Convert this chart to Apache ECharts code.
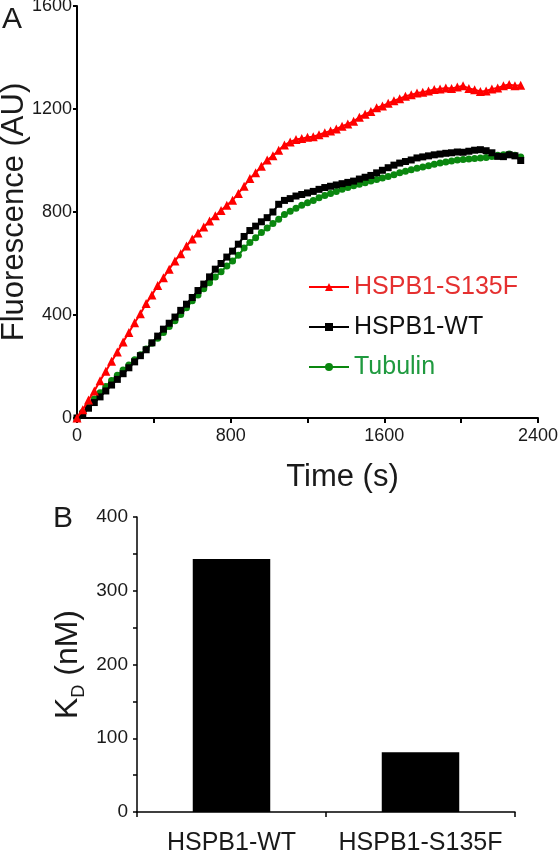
<!DOCTYPE html>
<html>
<head>
<meta charset="utf-8">
<script src="https://cdn.jsdelivr.net/npm/echarts@6/dist/echarts.min.js"></script>
<style>
html,body{margin:0;padding:0;background:#fff;}
#chart{width:560px;height:852px;}
</style>
</head>
<body>
<div id="chart"></div>
<script>
// ---- Panel A data ----
var timeSec = [0,30,60,90,120,150,180,210,240,270,300,330,360,390,420,450,480,510,540,570,600,630,660,690,720,750,780,810,840,870,900,930,960,990,1020,1050,1080,1110,1140,1170,1200,1230,1260,1290,1320,1350,1380,1410,1440,1470,1500,1530,1560,1590,1620,1650,1680,1710,1740,1770,1800,1830,1860,1890,1920,1950,1980,2010,2040,2070,2100,2130,2160,2190,2220,2250,2280,2310];
var s135f = [0,32,70,105,145,182,220,256,295,332,370,405,445,478,515,545,578,610,638,668,695,718,742,765,785,806,826,846,872,900,930,952,978,1002,1018,1040,1060,1072,1082,1085,1090,1092,1100,1108,1115,1122,1133,1142,1152,1168,1180,1190,1205,1212,1222,1232,1240,1250,1255,1262,1265,1270,1276,1278,1282,1280,1285,1290,1280,1275,1268,1270,1278,1282,1290,1295,1290,1292];
var wt = [0,15,38,60,82,105,128,150,172,195,218,242,265,292,318,345,368,392,418,442,468,495,520,548,578,600,625,648,675,705,728,745,762,778,800,830,845,852,862,868,874,880,888,895,900,905,910,915,920,928,935,942,952,962,972,982,990,996,1002,1010,1014,1018,1022,1025,1028,1030,1033,1032,1036,1040,1042,1038,1030,1016,1015,1022,1018,1000];
var tubulin = [0,22,48,74,98,122,146,166,186,206,226,246,268,290,310,332,355,378,402,428,455,478,502,525,548,568,590,610,632,660,682,700,720,738,755,772,790,803,815,826,836,845,855,864,872,880,888,895,902,908,914,920,926,932,938,945,952,958,964,970,975,980,985,990,994,998,1002,1004,1006,1008,1010,1012,1016,1020,1022,1025,1020,1014];
var seriesNames = ['HSPB1-S135F','HSPB1-WT','Tubulin'];

// ---- Panel B data ----
var kdCategories = ['HSPB1-WT','HSPB1-S135F'];
var kdValues = [343, 81];

function pairs(xs, ys){ var out=[]; for(var i=0;i<xs.length;i++){ out.push([xs[i], ys[i]]); } return out; }

var FONT = "'Liberation Sans', Arial, sans-serif";
var TXT = '#1a1a1a';

var chart = echarts.init(document.getElementById('chart'), null, {renderer:'canvas'});
var option = {
  backgroundColor:'#ffffff',
  animation:false,
  textStyle:{fontFamily:FONT},
  graphic:[
    {type:'text', left:2, top:5, style:{text:'A', font:'30px '+FONT, fill:TXT}},
    {type:'text', left:53, top:504, style:{text:'B', font:'30px '+FONT, fill:TXT}}
  ],
  legend:{
    orient:'vertical', left:303, top:267, itemWidth:40, itemHeight:10, itemGap:10,
    textStyle:{fontSize:25, lineHeight:30, fontFamily:FONT},
    data:[
      {name:'HSPB1-S135F', textStyle:{color:'#e53030'}},
      {name:'HSPB1-WT', textStyle:{color:'#111111'}},
      {name:'Tubulin', textStyle:{color:'#1f9a3f'}}
    ]
  },
  grid:[
    {left:77, right:22, top:6, height:412, containLabel:false, outerBoundsMode:'none'},
    {left:137, right:45, top:517, height:295, containLabel:false, outerBoundsMode:'none'}
  ],
  xAxis:[
    {type:'value', gridIndex:0, min:0, max:2400, interval:400,
     name:'Time (s)', nameLocation:'middle', nameGap:44, nameMoveOverlap:false,
     nameTextStyle:{fontSize:31, color:TXT, fontFamily:FONT, padding:[0,0,0,70]},
     axisLine:{show:true, lineStyle:{color:'#000', width:2}},
     axisTick:{show:true, inside:false, length:5, lineStyle:{color:'#000', width:2}},
     axisLabel:{fontSize:18, color:TXT, margin:9, fontFamily:FONT, hideOverlap:false,
       formatter:function(v){ return (v % 800 === 0) ? String(v) : ''; }},
     splitLine:{show:false}},
    {type:'category', gridIndex:1, data:kdCategories,
     axisLine:{show:true, lineStyle:{color:'#000', width:1.5}},
     axisTick:{show:true, alignWithLabel:false, length:5, lineStyle:{color:'#000', width:1.5}},
     axisLabel:{fontSize:25, color:TXT, margin:19, fontFamily:FONT, interval:0, hideOverlap:false},
     splitLine:{show:false}}
  ],
  yAxis:[
    {type:'value', gridIndex:0, min:0, max:1600, interval:400,
     name:'Fluorescence (AU)', nameLocation:'middle', nameGap:47, nameMoveOverlap:false,
     nameTextStyle:{fontSize:31, color:TXT, fontFamily:FONT},
     axisLine:{show:true, lineStyle:{color:'#000', width:2}},
     axisTick:{show:true, length:4, lineStyle:{color:'#000', width:2}},
     axisLabel:{fontSize:18, color:TXT, margin:5, fontFamily:FONT,
       formatter:function(v){ return String(v); }},
     splitLine:{show:false}},
    {type:'value', gridIndex:1, min:0, max:400, interval:50,
     name:'{k|K}{d|D}{n| (nM)}', nameLocation:'middle', nameGap:49, nameMoveOverlap:false,
     nameTextStyle:{fontFamily:FONT, color:TXT,
       rich:{
         k:{fontSize:32, lineHeight:40, verticalAlign:'middle', fontFamily:FONT, color:TXT},
         d:{fontSize:18, lineHeight:18, verticalAlign:'bottom', fontFamily:FONT, color:TXT},
         n:{fontSize:32, lineHeight:40, verticalAlign:'middle', fontFamily:FONT, color:TXT}
       }},
     axisLine:{show:true, lineStyle:{color:'#000', width:1.5}},
     axisTick:{show:true, length:4, lineStyle:{color:'#000', width:1.5}},
     axisLabel:{fontSize:19, color:TXT, margin:9, fontFamily:FONT,
       formatter:function(v){ return (v % 100 === 0) ? String(v) : ''; }},
     splitLine:{show:false}}
  ],
  series:[
    {name:'Tubulin', type:'line', xAxisIndex:0, yAxisIndex:0, data:pairs(timeSec, tubulin),
     symbol:'circle', symbolSize:7, showAllSymbol:true, z:2,
     lineStyle:{color:'#0a870f', width:2}, itemStyle:{color:'#0a870f'}},
    {name:'HSPB1-WT', type:'line', xAxisIndex:0, yAxisIndex:0, data:pairs(timeSec, wt),
     symbol:'rect', symbolSize:7, showAllSymbol:true, z:3,
     lineStyle:{color:'#000000', width:2}, itemStyle:{color:'#000000'}},
    {name:'HSPB1-S135F', type:'line', xAxisIndex:0, yAxisIndex:0, data:pairs(timeSec, s135f),
     symbol:'triangle', symbolSize:9, showAllSymbol:true, z:4,
     lineStyle:{color:'#ff0000', width:2}, itemStyle:{color:'#ff0000'}},
    {name:'KD', type:'bar', xAxisIndex:1, yAxisIndex:1, data:kdValues, barWidth:'41%',
     itemStyle:{color:'#000000'}}
  ]
};
chart.setOption(option);
</script>
</body>
</html>
